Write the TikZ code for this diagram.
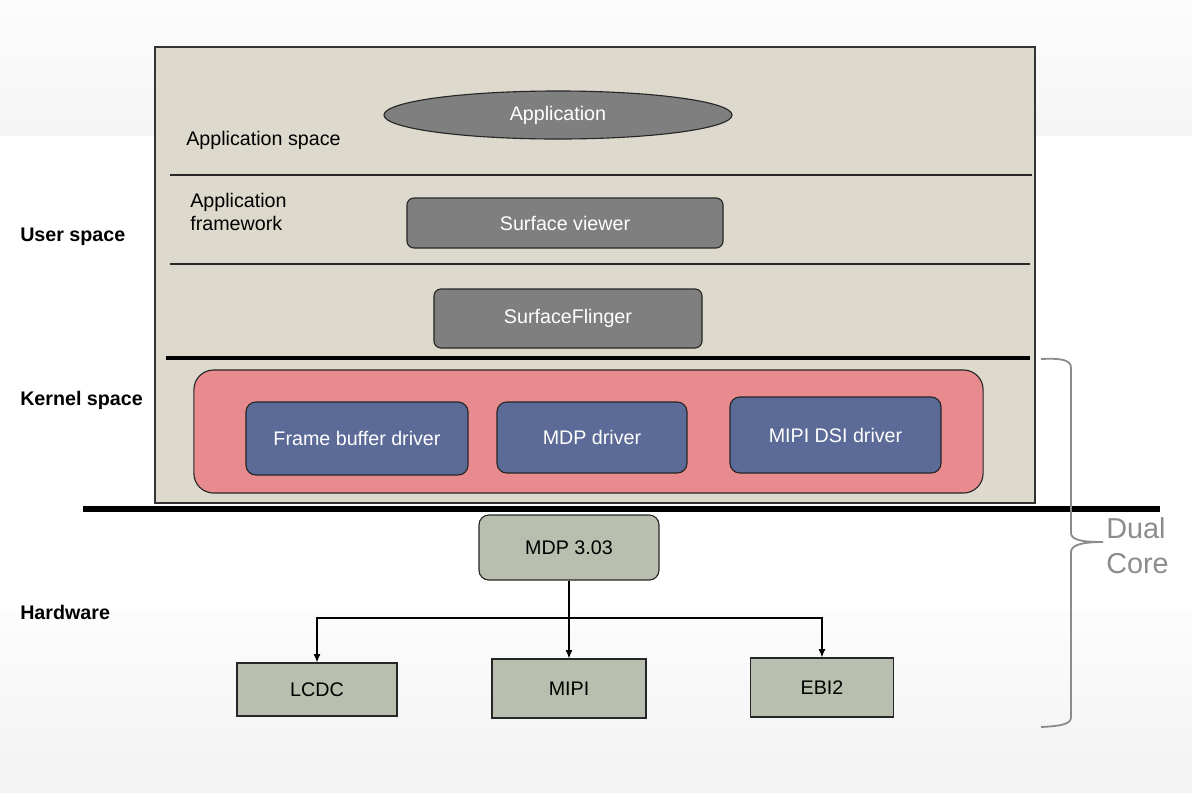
\documentclass[tikz,border=0pt]{standalone}
\usepackage{fontspec}
\setmainfont{Liberation Sans}
\usetikzlibrary{arrows.meta,shapes.geometric}

\definecolor{beige}{RGB}{221,217,205}
\definecolor{boxgray}{RGB}{127,127,127}
\definecolor{kernelpink}{RGB}{232,139,142}
\definecolor{driverblue}{RGB}{91,106,151}
\definecolor{hwgreen}{RGB}{184,191,174}
\definecolor{bracegray}{RGB}{140,140,140}

\begin{document}
\begin{tikzpicture}[
  x=0.025cm,y=-0.025cm,
  font=\fontsize{14}{17}\selectfont,
  >={Latex[length=6pt,width=5pt]},
  layer/.style={draw=black!80,line width=.9pt,fill=beige,minimum width=22cm,minimum height=11.4cm},
  userbox/.style={draw=black!85,line width=.8pt,rounded corners=5pt,fill=boxgray,text=white,inner sep=0pt},
  driver/.style={draw=black!85,line width=.8pt,rounded corners=7pt,fill=driverblue,text=white,inner sep=0pt},
  hwbox/.style={draw=black!85,line width=.8pt,fill=hwgreen,inner sep=0pt},
  note/.style={anchor=west,inner sep=0pt,align=left},
  side/.style={note,font=\fontsize{14}{17}\selectfont\bfseries},
  arrow/.style={->,line width=.9pt,black}
]
  \useasboundingbox (0,0) rectangle (1192,792);
  \shade[top color=black!1,bottom color=black!4] (0,0) rectangle (1192,135);
  \shade[top color=black!1,bottom color=black!5] (0,610) rectangle (1192,792);

  \node[layer] (stack) at (595,275) {};
  \draw[line width=.8pt,black!85] (170,175) -- (1032,175);
  \draw[line width=.8pt,black!85] (170,264) -- (1030,264);
  \draw[line width=2.6pt] (166,358) -- (1030,358);
  \draw[line width=3.8pt] (83,509) -- (1160,509);

  % user space
  \node[ellipse,draw=black!85,line width=.8pt,fill=boxgray,text=white,inner sep=0pt,minimum width=8.7cm,minimum height=1.2cm] (app) at (558,115) {Application};
  \node[note] (appspace) at (186,140) {Application space};
  \node[note] (appfw) at (190,212) {Application\\framework};
  \node[userbox,minimum width=7.9cm,minimum height=1.25cm] (viewer) at (565,223) {Surface viewer};
  \node[userbox,minimum width=6.7cm,minimum height=1.475cm] (flinger) at (568,318.5) {SurfaceFlinger};

  % kernel space
  \node[draw=black!85,line width=.8pt,rounded corners=14pt,fill=kernelpink,minimum width=19.725cm,minimum height=3.075cm] (kernel) at (588.5,431.5) {};
  \node[driver,minimum width=5.55cm,minimum height=1.825cm] (fbdrv) at (357,438.5) {Frame buffer driver};
  \node[driver,minimum width=4.75cm,minimum height=1.775cm] (mdpdrv) at (592,437.5) {MDP driver};
  \node[driver,minimum width=5.275cm,minimum height=1.9cm] (dsidrv) at (835.5,435) {MIPI DSI driver};

  % hardware
  \node[hwbox,rounded corners=7pt,minimum width=4.5cm,minimum height=1.625cm] (mdp) at (569,547.5) {MDP 3.03};
  \node[hwbox,minimum width=4cm,minimum height=1.325cm] (lcdc) at (317,689.5) {LCDC};
  \node[hwbox,minimum width=3.85cm,minimum height=1.475cm] (mipi) at (569,688.5) {MIPI};
  \node[hwbox,minimum width=3.575cm,minimum height=1.475cm] (ebi) at (822,687.5) {EBI2};
  \coordinate (split) at (569,618);
  \draw[arrow] (mdp) -- (mipi);
  \draw[arrow] (split) -| (lcdc);
  \draw[arrow] (split) -| (ebi);

  \node[side] (user) at (20,237) {User space};
  \node[side] (kspace) at (20,400) {Kernel space};
  \node[side] (hw) at (20,612) {Hardware};

  % dual core brace
  \draw[bracegray,line width=1.3pt] (1041,359) .. controls (1062,358) and (1071,360) .. (1071,368) -- (1071,533)
    .. controls (1071,540) and (1082,542) .. (1103,542)
    .. controls (1082,542) and (1071,545) .. (1071,552) -- (1071,717)
    .. controls (1071,724) and (1062,726) .. (1041,727);
  \node[note,text=bracegray,font=\fontsize{20.5}{25}\selectfont] (dual) at (1106,546) {Dual\\Core};
\end{tikzpicture}
\end{document}
